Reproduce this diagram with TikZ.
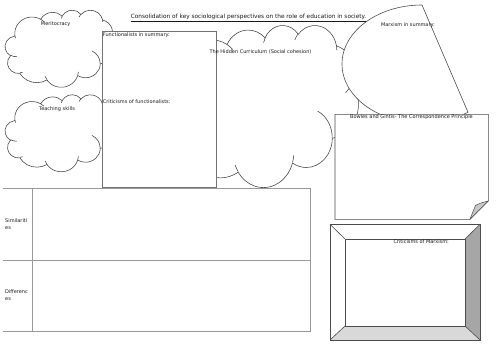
\documentclass[tikz,border=0pt]{standalone}
\usepackage{fontspec}
\setmainfont{DejaVu Sans}
\newcommand{\mycloud}[4]{%
  \begin{scope}[shift={(#1,#2)}, xscale=#3/43.2, yscale=#4/43.2]
    \draw[cloudline] (3.9,14.37)
      arc[start angle=-187.75, end angle=-59.63, x radius=6.753, y radius=9.19]
      arc[start angle=-152.04, end angle=-45.46, x radius=5.333, y radius=7.267]
      arc[start angle=-153.50, end angle=-37.33, x radius=4.365, y radius=5.945]
      arc[start angle=-139.70, end angle=-10.21, x radius=4.857, y radius=6.595]
      arc[start angle=-74.77, end angle=23.21, x radius=5.333, y radius=7.273]
      arc[start angle=-37.50, end angle=81.86, x radius=6.775, y radius=9.22]
      arc[start angle=0.46, end angle=121.98, x radius=5.785, y radius=7.867]
      arc[start angle=16.84, end angle=146.23, x radius=6.752, y radius=9.215]
      arc[start angle=58.98, end angle=149.47, x radius=7.72, y radius=10.543]
      arc[start angle=-276.69, end angle=-136.92, x radius=4.36, y radius=5.918]
      arc[start angle=-239.65, end angle=-95.89, x radius=4.345, y radius=5.945]
      -- cycle;
    \draw[cloudline, fill=none]
      (4.693,26.177) arc[start angle=85.55, end angle=120.35, x radius=4.345, y radius=5.945]
      (6.928,34.899) arc[start angle=68.24, end angle=83.31, x radius=4.36, y radius=5.918]
      (16.478,39.09) arc[start angle=146.23, end angle=158.47, x radius=6.752, y radius=9.215]
      (28.827,34.751) arc[start angle=4.74, end angle=16.84, x radius=6.752, y radius=9.215]
      (34.129,22.954) arc[start angle=-64.03, end angle=0.46, x radius=5.785, y radius=7.867]
      (41.798,15.354) arc[start angle=23.21, end angle=49.64, x radius=5.333, y radius=7.273]
      (38.324,5.426) arc[start angle=-10.21, end angle=0.82, x radius=4.857, y radius=6.595]
      (29.078,3.952) arc[start angle=-156.29, end angle=-139.70, x radius=4.857, y radius=6.595]
      (22.141,4.72) arc[start angle=-167.72, end angle=-153.50, x radius=4.365, y radius=5.945]
      (14.0,5.192) arc[start angle=-59.63, end angle=-45.74, x radius=6.753, y radius=9.19]
      (4.127,15.789) arc[start angle=163.19, end angle=172.25, x radius=6.753, y radius=9.19];
  \end{scope}}
\begin{document}
\begin{tikzpicture}[x=1pt,y=-1pt,
  cloudline/.style={draw=black!75, line width=0.55pt, fill=white},
  boxline/.style={draw=black!55, line width=0.7pt, fill=white},
  darkline/.style={draw=black!70, line width=0.6pt},
  tableline/.style={draw=black!40, line width=0.8pt},
  lbl/.style={font=\fontsize{5}{6}\selectfont, inner sep=0pt, text=black!90},
  twoline/.style={font=\fontsize{5}{6.5}\selectfont, inner sep=0pt, align=left, text=black!90},
  titlelbl/.style={font=\fontsize{5.8}{7}\selectfont, inner sep=0pt, text=black!90}]
\useasboundingbox[fill=white] (0,0) rectangle (500,353);

% clouds
\mycloud{5}{10}{110}{77}
\mycloud{5}{94.5}{110}{77}
\mycloud{164}{25}{194.4}{162}

% functionalist box
\draw[boxline] (102.3,31.7) rectangle (216,187.3);

% Marxism chord
\draw[darkline, fill=white] (422,5) arc[start angle=270, end angle=54.9, x radius=80, y radius=59] -- cycle;

% Bowles box with folded corner
\draw[darkline, fill=white] (335,114.3) -- (488.3,114.3) -- (488.3,201) -- (470,219.3) -- (335,219.3) -- cycle;
\draw[darkline, fill=black!22, line width=0.5pt] (470,219.3) .. controls (472,214) .. (475.5,205.5) .. controls (480.5,203) .. (488.3,201) -- cycle;

% table
\draw[tableline] (3,188.3) -- (310,188.3) -- (310,331.7) -- (3,331.7);
\draw[tableline] (3,260) -- (310,260);
\draw[tableline] (32.3,188.3) -- (32.3,331.7);

% bevel frame
\fill[white] (330,224.3) rectangle (480,340);
\fill[black!35] (480,224.3) -- (480,340) -- (465,326) -- (465,239) -- cycle;
\fill[black!15] (330,340) -- (480,340) -- (465,326) -- (345,326) -- cycle;
\draw[darkline] (330,224.3) rectangle (480,340);
\draw[darkline] (345,239) rectangle (465,326);
\draw[darkline] (330,224.3) -- (345,239) (480,224.3) -- (465,239) (330,340) -- (345,326) (480,340) -- (465,326);

% texts
\node[titlelbl] (title) at (248.5,18.3) {\underline{Consolidation of key sociological perspectives on the role of education in society.}};
\node[lbl] (meri) at (55.7,24.3) {Meritocracy};
\node[lbl] (teach) at (57,109) {Teaching skills};
\node[lbl, anchor=west] (funsum) at (102.7,34.7) {Functionalists in summary:};
\node[lbl, anchor=west] (funcrit) at (102.7,101.7) {Criticisms of functionalists:};
\node[lbl] (hidden) at (260.5,51.7) {The Hidden Curriculum (Social cohesion)};
\node[lbl] (marxsum) at (408,25) {Marxism in summary:};
\node[lbl] (bowles) at (411.5,117.3) {Bowles and Gintis- The Correspondence Principle};
\node[lbl, anchor=west] (critmarx) at (393.3,241.8) {Criticisms of Marxism:};
\node[twoline, anchor=west] (simil) at (5,224.3) {Similariti\\es};
\node[twoline, anchor=west] (diff) at (5,295) {Differenc\\es};
\end{tikzpicture}
\end{document}
